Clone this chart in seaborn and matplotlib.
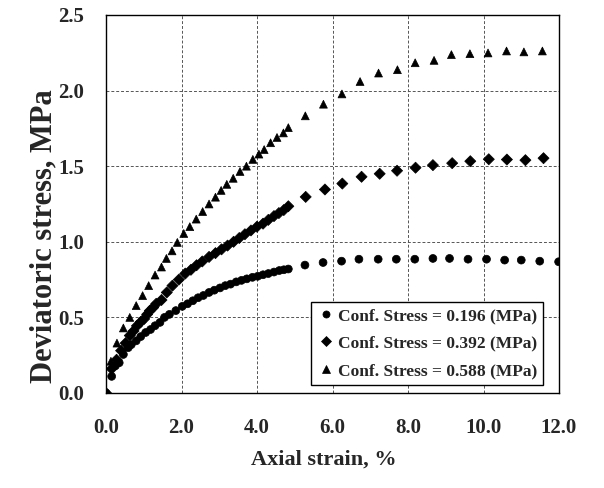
import matplotlib
matplotlib.use("Agg")
import matplotlib.pyplot as plt
import seaborn as sns
import pandas as pd

# ---- data ----
strain_196 = [0.0, 0.15, 0.25, 0.35, 0.46, 0.59, 0.67, 0.80, 0.92, 1.05, 1.18, 1.30, 1.43, 1.55,
              1.68, 1.85, 2.02, 2.16, 2.30, 2.44, 2.58, 2.73, 2.87, 3.02, 3.16, 3.30, 3.45, 3.59,
              3.73, 3.88, 4.02, 4.16, 4.30, 4.45, 4.59, 4.71, 4.83,
              5.27, 5.75, 6.24, 6.70, 7.21, 7.69, 8.18, 8.66, 9.10, 9.59, 10.08, 10.56, 11.00,
              11.49, 11.99]
stress_196 = [0.0, 0.11, 0.18, 0.20, 0.255, 0.30, 0.32, 0.345, 0.373, 0.40, 0.42, 0.445, 0.467, 0.50,
              0.52, 0.545, 0.573, 0.59, 0.61, 0.63, 0.645, 0.665, 0.68, 0.695, 0.71, 0.72, 0.735, 0.745,
              0.755, 0.765, 0.772, 0.782, 0.79, 0.80, 0.81, 0.815, 0.82,
              0.846, 0.863, 0.872, 0.885, 0.885, 0.885, 0.885, 0.89, 0.89, 0.885, 0.885, 0.879, 0.879,
              0.872, 0.868]

strain_392 = [0.0, 0.15, 0.28, 0.40, 0.52, 0.63, 0.73, 0.82, 0.92, 1.01, 1.09, 1.16, 1.25, 1.33,
              1.47, 1.61, 1.76, 1.93, 2.10, 2.25, 2.40, 2.55, 2.73, 2.90, 3.06, 3.22, 3.38, 3.53,
              3.68, 3.84, 4.00, 4.16, 4.30, 4.45, 4.58, 4.71, 4.83,
              5.29, 5.80, 6.26, 6.77, 7.25, 7.71, 8.20, 8.66, 9.17, 9.65, 10.14, 10.62, 11.11, 11.59]
stress_392 = [0.0, 0.16, 0.22, 0.28, 0.33, 0.38, 0.41, 0.444, 0.47, 0.49, 0.52, 0.544, 0.565, 0.59,
              0.615, 0.665, 0.71, 0.75, 0.79, 0.815, 0.845, 0.87, 0.90, 0.925, 0.95, 0.975, 1.0, 1.025,
              1.05, 1.075, 1.10, 1.12, 1.145, 1.17, 1.19, 1.21, 1.235,
              1.297, 1.346, 1.385, 1.43, 1.45, 1.47, 1.49, 1.507, 1.52, 1.533, 1.546, 1.544, 1.54, 1.553]

strain_588 = [0.0, 0.13, 0.29, 0.46, 0.63, 0.80, 0.97, 1.13, 1.30, 1.47, 1.60, 1.75, 1.89, 2.06,
              2.22, 2.39, 2.56, 2.73, 2.90, 3.05, 3.20, 3.37, 3.55, 3.72, 3.89, 4.05, 4.19, 4.36,
              4.53, 4.70, 4.83,
              5.28, 5.76, 6.25, 6.73, 7.22, 7.72, 8.19, 8.69, 9.15, 9.64, 10.12, 10.61, 11.07, 11.56]
stress_588 = [0.0, 0.21, 0.33, 0.43, 0.50, 0.578, 0.644, 0.71, 0.78, 0.833, 0.89, 0.94, 0.996, 1.055,
              1.10, 1.15, 1.20, 1.25, 1.295, 1.34, 1.38, 1.42, 1.465, 1.50, 1.545, 1.58, 1.61, 1.655,
              1.69, 1.72, 1.755,
              1.833, 1.91, 1.978, 2.06, 2.116, 2.138, 2.184, 2.20, 2.238, 2.244, 2.249, 2.262, 2.256, 2.262]

labels = ["Conf. Stress = 0.196 (MPa)", "Conf. Stress = 0.392 (MPa)", "Conf. Stress = 0.588 (MPa)"]
x_ticks = [0, 2, 4, 6, 8, 10, 12]
x_tick_labels = ["0.0", "2.0", "4.0", "6.0", "8.0", "10.0", "12.0"]
y_ticks = [0.0, 0.5, 1.0, 1.5, 2.0, 2.5]
y_tick_labels = ["0.0", "0.5", "1.0", "1.5", "2.0", "2.5"]

df = pd.concat([
    pd.DataFrame({"strain": strain_196, "stress": stress_196, "series": labels[0]}),
    pd.DataFrame({"strain": strain_392, "stress": stress_392, "series": labels[1]}),
    pd.DataFrame({"strain": strain_588, "stress": stress_588, "series": labels[2]}),
], ignore_index=True)

sns.set_theme(style="white")
plt.rcParams["font.family"] = ["Liberation Serif", "DejaVu Serif"]
plt.rcParams["font.weight"] = "bold"

fig = plt.figure(figsize=(6.04, 4.88), dpi=100)
L, R, T, B = 106, 559, 15, 393
ax = fig.add_axes([L / 604, 1 - B / 488, (R - L) / 604, (B - T) / 488])

sns.scatterplot(data=df, x="strain", y="stress", hue="series", style="series",
                markers={labels[0]: "o", labels[1]: "D", labels[2]: "^"},
                s=36, palette=["black", "black", "black"],
                edgecolor="black", linewidth=0.5, ax=ax, zorder=3)
for coll, sz in zip(ax.collections, [32, 24, 38]):
    coll.set_sizes([sz])

ax.set_xlim(0, 12)
ax.set_ylim(0, 2.5)
ax.set_xticks(x_ticks)
ax.set_xticklabels(x_tick_labels)
ax.set_yticks(y_ticks)
ax.set_yticklabels(y_tick_labels)
ax.tick_params(axis="x", length=0, labelsize=15, pad=18)
ax.tick_params(axis="y", length=0, labelsize=15, pad=16)
for lab in ax.get_xticklabels() + ax.get_yticklabels():
    lab.set_fontweight("bold")

ax.grid(True, color="#555555", linestyle=(0, (3, 2)), linewidth=0.7)
ax.set_axisbelow(True)
for sp in ax.spines.values():
    sp.set_color("black")
    sp.set_linewidth(1.0)

ax.set_xlabel("Axial strain, %", fontsize=16, fontweight="bold", va="center")
ax.xaxis.set_label_coords((323.5 - L) / (R - L), (B - 460) / (B - T))
ax.set_ylabel("Deviatoric stress, MPa", fontsize=22, fontweight="bold", va="center")
ax.yaxis.set_label_coords((44 - L) / (R - L), (B - 236) / (B - T))

leg = ax.legend(loc="lower right", bbox_to_anchor=(1 - 16 / (R - L), 8 / (B - T)),
                borderaxespad=0, frameon=True, fancybox=False,
                prop={"family": "Liberation Serif", "weight": "bold", "size": 12.5},
                handletextpad=0.2, borderpad=0.35, labelspacing=0.65, handlelength=1.0,
                markerscale=0.85)
leg.get_frame().set_edgecolor("black")
leg.get_frame().set_linewidth(1.0)
leg.get_frame().set_facecolor("white")
leg.get_frame().set_alpha(1)

fig.savefig("out.png", dpi=100)
